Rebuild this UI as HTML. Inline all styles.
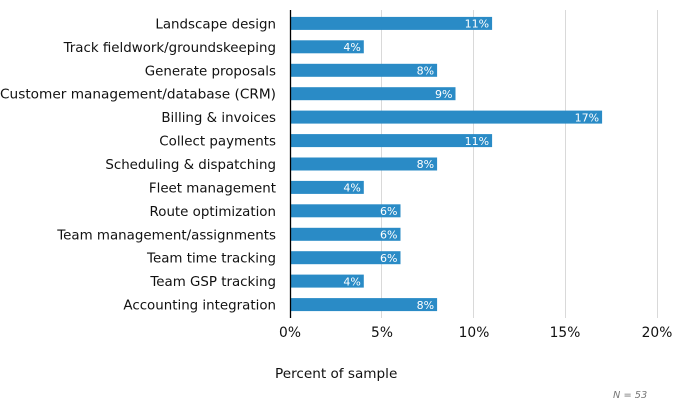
<!DOCTYPE html>
<html><head><style>body{margin:0;background:#fff}svg{display:block}</style></head><body>
<svg width="675" height="407" xmlns="http://www.w3.org/2000/svg" font-family="DejaVu Sans, Verdana, sans-serif">
<g stroke="#d9d9d9" stroke-width="1">
<line x1="381.5" y1="10" x2="381.5" y2="318"/>
<line x1="473.5" y1="10" x2="473.5" y2="318"/>
<line x1="565.5" y1="10" x2="565.5" y2="318"/>
<line x1="657.5" y1="10" x2="657.5" y2="318"/>
</g>
<g fill="#2a8bc6">
<rect x="290.5" y="16.9" width="201.6" height="13"/>
<rect x="290.5" y="40.3" width="73.3" height="13"/>
<rect x="290.5" y="63.8" width="146.6" height="13"/>
<rect x="290.5" y="87.2" width="165" height="13"/>
<rect x="290.5" y="110.6" width="311.6" height="13"/>
<rect x="290.5" y="134.1" width="201.6" height="13"/>
<rect x="290.5" y="157.5" width="146.6" height="13"/>
<rect x="290.5" y="180.9" width="73.3" height="13"/>
<rect x="290.5" y="204.3" width="110" height="13"/>
<rect x="290.5" y="227.8" width="110" height="13"/>
<rect x="290.5" y="251.2" width="110" height="13"/>
<rect x="290.5" y="274.6" width="73.3" height="13"/>
<rect x="290.5" y="298.1" width="146.6" height="13"/>
</g>
<g font-size="11" fill="#fff" text-anchor="end">
<text x="489.1" y="27.6">11%</text>
<text x="360.8" y="51">4%</text>
<text x="434.1" y="74.5">8%</text>
<text x="452.5" y="97.9">9%</text>
<text x="599.1" y="121.3">17%</text>
<text x="489.1" y="144.8">11%</text>
<text x="434.1" y="168.2">8%</text>
<text x="360.8" y="191.6">4%</text>
<text x="397.5" y="215">6%</text>
<text x="397.5" y="238.5">6%</text>
<text x="397.5" y="261.9">6%</text>
<text x="360.8" y="285.3">4%</text>
<text x="434.1" y="308.8">8%</text>
</g>
<g font-size="13.4" fill="#111" text-anchor="end">
<text x="276" y="28.4">Landscape design</text>
<text x="276" y="51.8">Track fieldwork/groundskeeping</text>
<text x="276" y="75.3">Generate proposals</text>
<text x="276" y="98.7" textLength="276" lengthAdjust="spacingAndGlyphs">Customer management/database (CRM)</text>
<text x="276" y="122.1">Billing &amp; invoices</text>
<text x="276" y="145.6">Collect payments</text>
<text x="276" y="169">Scheduling &amp; dispatching</text>
<text x="276" y="192.4">Fleet management</text>
<text x="276" y="215.8">Route optimization</text>
<text x="276" y="239.3">Team management/assignments</text>
<text x="276" y="262.7">Team time tracking</text>
<text x="276" y="286.1">Team GSP tracking</text>
<text x="276" y="309.6">Accounting integration</text>
</g>
<line x1="290.5" y1="10" x2="290.5" y2="318" stroke="#000" stroke-width="1.3"/>
<g font-size="13.8" fill="#111" text-anchor="middle">
<text x="290" y="337">0%</text><text x="382" y="337">5%</text><text x="474" y="337">10%</text><text x="565" y="337">15%</text><text x="657" y="337">20%</text>
</g>
<text x="275" y="378" font-size="13.6" fill="#111">Percent of sample</text>
<text x="613" y="398" font-size="9.8" font-style="italic" fill="#777">N = 53</text>
</svg>
</body></html>
